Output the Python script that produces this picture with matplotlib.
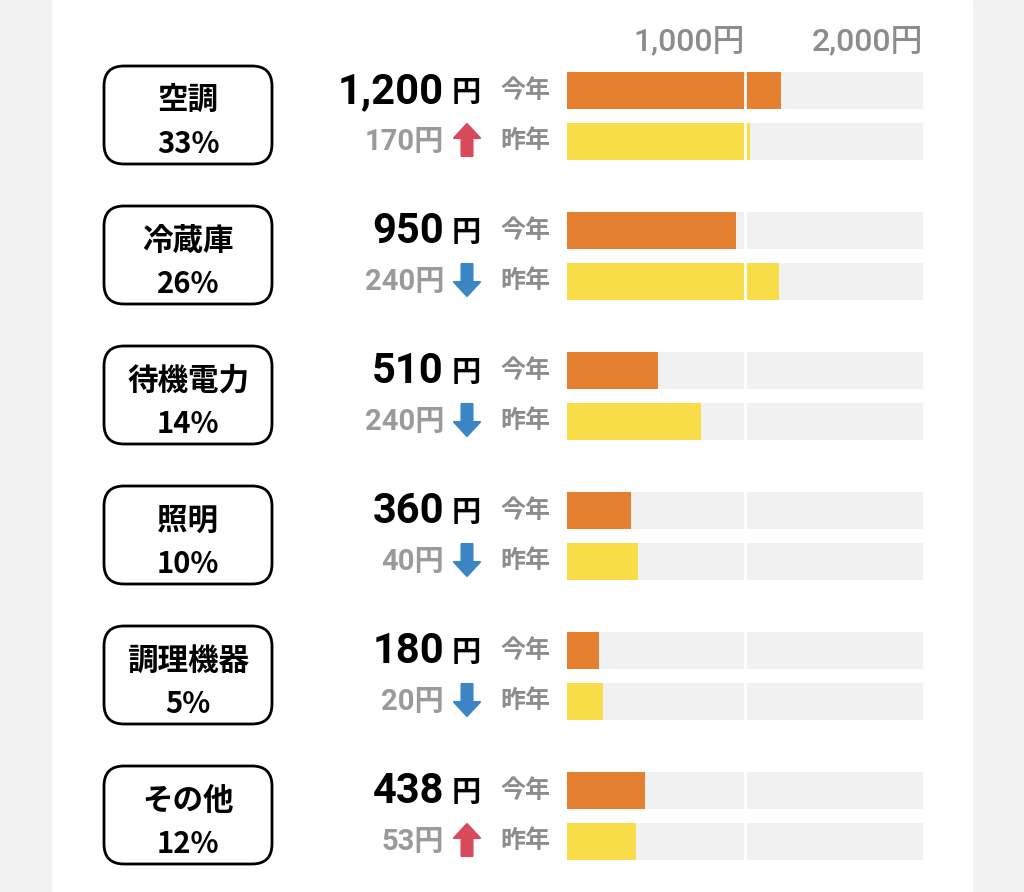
import matplotlib
matplotlib.use("Agg")
import matplotlib.pyplot as plt
from matplotlib.patches import FancyBboxPatch, Polygon, Rectangle

# data
categories = ["空調", "冷蔵庫", "待機電力", "照明", "調理機器", "その他"]
shares = [33, 26, 14, 10, 5, 12]
this_year = [1200, 950, 510, 360, 180, 438]
last_year = [1030, 1190, 750, 400, 200, 385]
tick_values = [1000, 2000]
x_max = 2000

ORANGE = "#e58030"
YELLOW = "#f8dc48"
TRACK = "#f1f1f1"
GRAY = "#8c8c8c"
LIGHTGRAY = "#9a9a9a"
RED = "#d94b5b"
BLUE = "#3c86c6"
FONTS = ["Roboto", "Noto Sans CJK JP", "DejaVu Sans"]
JP = ["Noto Sans CJK JP", "DejaVu Sans"]

W, H = 1024, 892
fig = plt.figure(figsize=(W / 100, H / 100), dpi=100, facecolor="#f2f2f2")

# overlay axes in pixel units for boxes and labels
ax = fig.add_axes([0, 0, 1, 1])
ax.set_xlim(0, W)
ax.set_ylim(H, 0)
ax.axis("off")
ax.add_patch(Rectangle((52, 0), 920, H, color="white", zorder=0))

# bar axes: x in yen, y in pixel rows
bx = fig.add_axes([567 / W, 0, 356 / W, 1])
bx.set_xlim(0, x_max)
bx.set_ylim(H, 0)
bx.axis("off")
bx.patch.set_visible(False)

row0, pitch, bar_h = 90.5, 140, 37
y_now = [row0 + pitch * i for i in range(len(categories))]
y_last = [y + 50.5 for y in y_now]

bx.barh(y_now, [x_max] * len(y_now), height=bar_h, color=TRACK, zorder=1)
bx.barh(y_last, [x_max] * len(y_last), height=bar_h, color=TRACK, zorder=1)
bx.barh(y_now, this_year, height=bar_h, color=ORANGE, zorder=2)
bx.barh(y_last, last_year, height=bar_h, color=YELLOW, zorder=2)
for y in y_now + y_last:
    bx.plot([1000, 1000], [y - bar_h / 2, y + bar_h / 2], color="white", lw=2, zorder=3)

for v in tick_values:
    bx.text(v, 41, f"{v:,}円", ha="right", va="center", fontsize=23,
            family=FONTS, fontweight="medium", color=GRAY)


def arrow(cx, cy, up, color):
    s = -1 if up else 1
    hh, hw, sw, total = 14, 13, 5.5, 32
    tip = cy + s * total / 2
    base = cy - s * total / 2
    neck = tip - s * hh
    pts = [(cx, tip), (cx + hw, neck), (cx + sw, neck), (cx + sw, base),
           (cx - sw, base), (cx - sw, neck), (cx - hw, neck)]
    ax.add_patch(Polygon(pts, closed=True, color=color, joinstyle="round", lw=1.5))


for i, cat in enumerate(categories):
    top = 66 + pitch * i
    ax.add_patch(FancyBboxPatch((104, top), 168, 98,
                                boxstyle="round,pad=0,rounding_size=20",
                                fc="white", ec="black", lw=2))
    ax.text(188, top + 35, cat, ha="center", va="center", fontsize=22,
            family=FONTS, fontweight="bold")
    ax.text(188, top + 78, f"{shares[i]}%", ha="center", va="center", fontsize=21,
            family=JP, fontweight="bold")

    yn, yl = y_now[i], y_last[i]
    ax.text(444, yn + 1, f"{this_year[i]:,}", ha="right", va="center", fontsize=30,
            family=FONTS, fontweight="bold")
    ax.text(452, yn + 2, "円", ha="left", va="center", fontsize=21,
            family=FONTS, fontweight="bold")
    ax.text(500, yn, "今年", ha="left", va="center", fontsize=18,
            family=FONTS, fontweight="bold", color=GRAY)

    change = this_year[i] - last_year[i]
    ax.text(444, yl + 1, f"{abs(change)}円", ha="right", va="center", fontsize=21,
            family=FONTS, fontweight="bold", color=LIGHTGRAY)
    arrow(467, yl - 1, change > 0, RED if change > 0 else BLUE)
    ax.text(500, yl, "昨年", ha="left", va="center", fontsize=18,
            family=FONTS, fontweight="bold", color=GRAY)

fig.savefig("out.png", dpi=100, facecolor=fig.get_facecolor())
